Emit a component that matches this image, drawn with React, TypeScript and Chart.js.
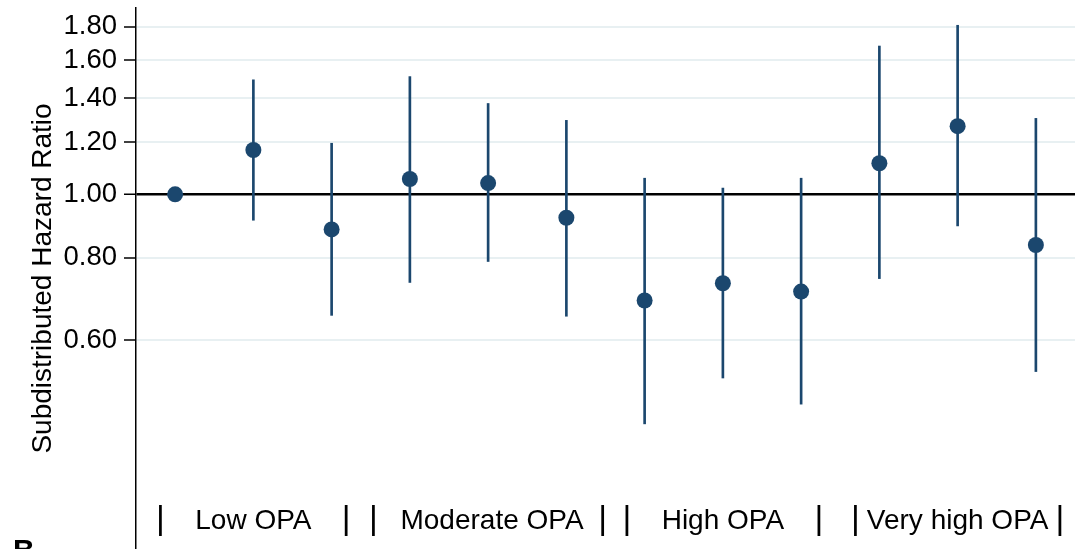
import React, { useEffect, useRef } from 'react';
import { Chart, registerables } from 'chart.js';

Chart.register(...registerables);

// ---- data ----
const categories = [
  'Low OPA a', 'Low OPA b', 'Low OPA c',
  'Moderate OPA a', 'Moderate OPA b', 'Moderate OPA c',
  'High OPA a', 'High OPA b', 'High OPA c',
  'Very high OPA a', 'Very high OPA b', 'Very high OPA c',
];
const hazardRatio = [1.0, 1.168, 0.884, 1.055, 1.04, 0.921, 0.689, 0.732, 0.711, 1.115, 1.27, 0.837];
const ciLower = [null, 0.913, 0.654, 0.734, 0.79, 0.652, 0.447, 0.525, 0.479, 0.744, 0.895, 0.537];
const ciUpper = [null, 1.494, 1.196, 1.511, 1.375, 1.296, 1.058, 1.022, 1.058, 1.682, 1.809, 1.305];
const yTicks = [0.6, 0.8, 1.0, 1.2, 1.4, 1.6, 1.8];
const groupLabels = ['|    Low OPA    |', '|   Moderate OPA  |', '|    High OPA    |', '| Very high OPA |'];
const groupCenters = [1, 4, 7, 10];
const yMin = 0.2882;
const yMax = 1.922;
const yTitle = 'Subdistributed Hazard Ratio';
const panelLetter = 'B';

const BLUE = '#1b476e';
const FONT = '"Liberation Sans", Arial, Helvetica, sans-serif';
const VIEW_H = 549;

const groupLabelPlugin = {
  id: 'groupLabels',
  afterDraw(chart: any) {
    const ctx = chart.ctx;
    const xs = chart.scales.x;
    const baseline = chart.chartArea.bottom - 20;
    ctx.save();
    ctx.fillStyle = '#000';
    ctx.textBaseline = 'alphabetic';
    groupLabels.forEach((s, i) => {
      ctx.font = `28px ${FONT}`;
      const cx = xs.getPixelForValue(groupCenters[i]);
      const total = ctx.measureText(s).width;
      const x0 = cx - total / 2;
      const barW = ctx.measureText('|').width;
      let seg = '';
      let segStart = 0;
      const bars: number[] = [];
      for (let k = 0; k <= s.length; k++) {
        const ch = s[k];
        if (k === s.length || ch === '|') {
          if (seg.trim().length) {
            ctx.font = `28px ${FONT}`;
            ctx.textAlign = 'left';
            ctx.fillText(seg, x0 + ctx.measureText(s.slice(0, segStart)).width, baseline);
          }
          if (ch === '|') {
            ctx.font = `28px ${FONT}`;
            bars.push(x0 + ctx.measureText(s.slice(0, k)).width + barW / 2);
          }
          seg = '';
          segStart = k + 1;
        } else {
          seg += ch;
        }
      }
      ctx.font = `34px ${FONT}`;
      ctx.textAlign = 'center';
      bars.forEach((bx) => ctx.fillText('|', bx, baseline));
    });
    ctx.font = `bold 30px ${FONT}`;
    ctx.textAlign = 'left';
    ctx.fillText(panelLetter, 13, VIEW_H + 11);
    ctx.restore();
  },
};

export default function App() {
  const ref = useRef<HTMLCanvasElement | null>(null);
  useEffect(() => {
    if (!ref.current) return;
    const intervals = ciLower.map((lo, i) => (lo == null || ciUpper[i] == null ? null : [lo, ciUpper[i]]));
    const chart = new Chart(ref.current, {
      type: 'bar',
      data: {
        labels: categories,
        datasets: [
          {
            type: 'line',
            data: hazardRatio,
            showLine: false,
            pointRadius: 8,
            pointHoverRadius: 8,
            pointBackgroundColor: BLUE,
            pointBorderColor: BLUE,
            pointBorderWidth: 0,
            order: 0,
          } as any,
          {
            type: 'bar',
            data: intervals as any,
            backgroundColor: BLUE,
            borderWidth: 0,
            barThickness: 2,
            order: 1,
          },
        ],
      },
      options: {
        responsive: false,
        animation: false,
        events: [],
        layout: { padding: { top: 5, right: 12, bottom: 0, left: 0 } },
        plugins: { legend: { display: false }, tooltip: { enabled: false } },
        scales: {
          x: {
            type: 'category',
            display: false,
            offset: true,
            grid: { display: false },
          },
          y: {
            type: 'logarithmic',
            min: yMin,
            max: yMax,
            afterBuildTicks: (scale: any) => {
              scale.ticks = yTicks.map((v) => ({ value: v }));
            },
            afterFit: (scale: any) => {
              scale.width = 136;
              scale.paddingTop = 0;
              scale.paddingBottom = 0;
            },
            border: { display: true, color: '#000', width: 1.5 },
            grid: {
              color: (c: any) => (c.tick && Math.abs(c.tick.value - 1) < 1e-6 ? '#000' : '#e8f0f2'),
              lineWidth: (c: any) => (c.tick && Math.abs(c.tick.value - 1) < 1e-6 ? 2.5 : 2),
              drawTicks: true,
              tickLength: 12,
              tickColor: '#000',
              tickWidth: 1.5,
            },
            ticks: {
              color: '#000',
              padding: 7,
              font: { family: FONT, size: 27.5 },
              callback: (v: any) => Number(v).toFixed(2),
            },
            title: {
              display: true,
              text: yTitle,
              color: '#000',
              font: { family: FONT, size: 28 },
              padding: { top: 26, bottom: 0 },
            },
          },
        },
      },
      plugins: [groupLabelPlugin],
    });
    return () => chart.destroy();
  }, []);
  return (
    <canvas
      ref={ref}
      width={1087}
      height={557}
      style={{ position: 'fixed', left: 0, top: 0, width: 1087, height: 557, display: 'block', background: '#fff' }}
    />
  );
}
